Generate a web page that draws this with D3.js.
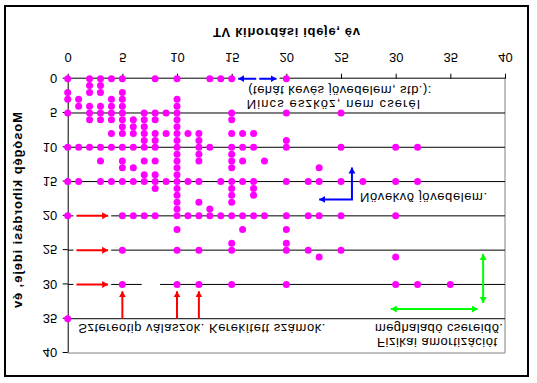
<!DOCTYPE html>
<html>
<head>
<meta charset="utf-8">
<script src="https://cdn.jsdelivr.net/npm/d3@7"></script>
<style>
  body { margin: 0; background: #fff; }
  svg { display: block; }
  text { font-family: "Liberation Sans", Arial, sans-serif; }
</style>
</head>
<body>
<svg id="chart" width="537" height="383"></svg>
<script>
// Mosógép kihordási ideje (év) soronként, és az adott sorban előforduló TV kihordási idők
const mosogepEv = [0, 1, 2, 3, 4, 5, 6, 7, 8, 9, 10, 11, 12, 13, 14, 15, 16, 17, 18, 19, 20, 22, 24, 25, 26, 30, 35];
const tvEvek = [
    [0, 2, 3, 4, 5, 8, 10, 13, 14, 15, 20],
    [2, 3],
    [0, 2, 3, 5],
    [0, 1, 4, 5, 10],
    [1, 2, 3, 4, 5, 10],
    [0, 2, 3, 4, 5, 7, 8, 9, 10, 15, 20, 25],
    [2, 3, 4, 5, 6, 7, 8, 10, 15],
    [5, 6, 7, 10],
    [4, 5, 6, 7, 8, 9, 10, 11, 12, 15, 16, 17],
    [7, 8, 10, 12, 20],
    [0, 1, 2, 3, 4, 5, 6, 7, 8, 10, 12, 13, 15, 16, 17, 20, 25, 30, 32],
    [10, 12, 15],
    [3, 5, 7, 8, 10, 12, 15, 16, 18],
    [5, 6, 10, 15, 23],
    [7, 8, 10],
    [0, 1, 3, 4, 5, 6, 7, 8, 9, 10, 11, 12, 14, 15, 16, 17, 20, 22, 23, 25, 27, 30, 32],
    [8, 10, 15, 17],
    [10, 15, 17],
    [10, 12, 15],
    [10, 13],
    [0, 5, 6, 7, 8, 10, 11, 12, 13, 14, 15, 16, 17, 18, 20, 22, 23, 25, 30],
    [10, 16, 20],
    [15, 20],
    [5, 10, 12, 15, 20, 22, 25],
    [23, 30],
    [5, 10, 12, 15, 20, 30, 32, 35],
    [0]
];
const tengelyTickek = [0, 5, 10, 15, 20, 25, 30, 35, 40];
const racsVonalak = [5, 10, 15, 20, 25, 30, 35];

// megjegyzések és nyilak (adategységben)
const feliratok = [
    { t: "Nincs eszköz, nem cserél", x: 16.38, y: 3.1, w: 173 },
    { t: "(tehát kevés jövedelem, stb.):", x: 16.52, y: 1.0, w: 183 },
    { t: "Növekvő jövedelem.", x: 26.74, y: 16.6, w: 127 },
    { t: "Sztereotip válaszok. Kerekített számok.", x: 0.97, y: 35.7, w: 247 },
    { t: "Fizikai amortizációt", x: 28.3, y: 37.8, w: 120 },
    { t: "meghaladó csereidő.", x: 28.1, y: 35.7, w: 128 }
];
const nyilak = [
    { p: [[0.8, 20], [3.7, 20]], c: "#ff0000", s: false, e: true, halo: true },
    { p: [[0.8, 25], [3.7, 25]], c: "#ff0000", s: false, e: true, halo: true },
    { p: [[0.8, 30], [3.7, 30]], c: "#ff0000", s: false, e: true, halo: true },
    { p: [[5, 35], [5, 31]], c: "#ff0000", s: false, e: true },
    { p: [[10, 35], [10, 31]], c: "#ff0000", s: false, e: true },
    { p: [[12, 35], [12, 31]], c: "#ff0000", s: false, e: true },
    { p: [[15.6, 0], [19.1, 0]], c: "#0000ff", s: true, e: true, halo: true, dash: "18,3" },
    { p: [[23.0, 17.6], [26.0, 17.6], [26.0, 12.95]], c: "#0000ff", s: true, e: true },
    { p: [[38, 25.55], [38, 32.7]], c: "#00ff00", s: true, e: true },
    { p: [[29.55, 33.6], [37.5, 33.6]], c: "#00ff00", s: true, e: true }
];

const W = 537, H = 383;
const svg = d3.select('#chart');

// az egész ábra függőlegesen tükrözve, ahogy a forrásképen
const g = svg.append('g').attr('transform', `translate(0,${H}) scale(1,-1)`);

const x = d3.scaleLinear().domain([0, 40]).range([67.7, 505]);
const y = d3.scaleLinear().domain([0, 40]).range([H - 78.7, H - 353]);

// keret
g.append('rect')
    .attr('x', 5).attr('y', 7).attr('width', 523).attr('height', 370)
    .attr('fill', '#fff').attr('stroke', '#000').attr('stroke-width', 2);

// nyílhegyek
const defs = svg.append('defs');
['#ff0000', '#0000ff', '#00ff00'].forEach(c => {
    defs.append('marker')
        .attr('id', 'm' + c.slice(1))
        .attr('viewBox', '-6 -4 7 8')
        .attr('refX', 0).attr('refY', 0)
        .attr('markerWidth', 7).attr('markerHeight', 8)
        .attr('markerUnits', 'userSpaceOnUse')
        .attr('orient', 'auto-start-reverse')
        .append('path')
        .attr('d', 'M-6,-3.5L0,0L-6,3.5Z')
        .attr('fill', c);
});

// szürke plot-keret (fent és jobbra az eredetiben)
g.append('line')
    .attr('x1', x(0)).attr('x2', x(40)).attr('y1', y(40)).attr('y2', y(40))
    .attr('stroke', '#808080').attr('stroke-width', 1);
g.append('line')
    .attr('x1', x(40)).attr('x2', x(40)).attr('y1', y(0)).attr('y2', y(40))
    .attr('stroke', '#808080').attr('stroke-width', 1);

// rácsvonalak
g.selectAll('line.grid')
    .data(racsVonalak)
    .enter()
    .append('line')
    .attr('class', 'grid')
    .attr('x1', x(0)).attr('x2', x(40))
    .attr('y1', d => y(d)).attr('y2', d => y(d))
    .attr('stroke', '#000').attr('stroke-width', 1);

// hézag a 30-as vonalon
g.append('rect')
    .attr('x', x(6.77)).attr('width', x(8.45) - x(6.77))
    .attr('y', y(30) - 2).attr('height', 4)
    .attr('fill', '#fff');

// tengelyek
const xAxis = g.append('g')
    .attr('transform', `translate(0,${y(0)})`)
    .call(d3.axisBottom(x).tickValues(tengelyTickek).tickSizeInner(5).tickSizeOuter(0).tickPadding(11.2));
const yAxis = g.append('g')
    .attr('transform', `translate(${x(0)},0)`)
    .call(d3.axisLeft(y).tickValues(tengelyTickek).tickSizeInner(5).tickSizeOuter(0).tickPadding(5.5));
[xAxis, yAxis].forEach(a => {
    a.selectAll('text').attr('font-size', 13).attr('fill', '#000')
        .attr('font-family', '"Liberation Sans", Arial, sans-serif');
    a.selectAll('line').attr('stroke', '#000');
    a.select('.domain').attr('stroke', '#000');
});

// tengelycímek
g.append('text')
    .attr('x', 286.5).attr('y', H - 28.3)
    .attr('text-anchor', 'middle')
    .attr('font-size', 13).attr('font-weight', 'bold')
    .attr('textLength', 147).attr('lengthAdjust', 'spacing')
    .text('TV kihordási ideje, év');
g.append('text')
    .attr('transform', `translate(22,${H - 210}) rotate(-90)`)
    .attr('text-anchor', 'middle')
    .attr('font-size', 13).attr('font-weight', 'bold')
    .attr('textLength', 196).attr('lengthAdjust', 'spacing')
    .text('Mosógép kihordási ideje, év');

// nyilak
const line = d3.line().x(d => x(d[0])).y(d => y(d[1]));
g.selectAll('path.halo')
    .data(nyilak.filter(d => d.halo))
    .enter()
    .append('path')
    .attr('class', 'halo')
    .attr('d', d => line(d.p))
    .attr('fill', 'none')
    .attr('stroke', '#fff').attr('stroke-width', 6)
    .attr('stroke-linecap', 'square');
g.selectAll('path.nyil')
    .data(nyilak)
    .enter()
    .append('path')
    .attr('class', 'nyil')
    .attr('d', d => line(d.p))
    .attr('fill', 'none')
    .attr('stroke', d => d.c).attr('stroke-width', 2)
    .attr('stroke-dasharray', d => d.dash || null)
    .attr('marker-start', d => d.s ? `url(#m${d.c.slice(1)})` : null)
    .attr('marker-end', d => d.e ? `url(#m${d.c.slice(1)})` : null);

// pontok
const pontok = mosogepEv.flatMap((m, i) => tvEvek[i].map(t => ({ tv: t, mg: m })));
g.selectAll('circle.pont')
    .data(pontok)
    .enter()
    .append('circle')
    .attr('class', 'pont')
    .attr('cx', d => x(d.tv))
    .attr('cy', d => y(d.mg))
    .attr('r', 3.5)
    .attr('fill', '#ff00ff');

// feliratok
g.selectAll('text.felirat')
    .data(feliratok)
    .enter()
    .append('text')
    .attr('class', 'felirat')
    .attr('x', d => x(d.x))
    .attr('y', d => y(d.y))
    .attr('font-size', 13)
    .attr('textLength', d => d.w).attr('lengthAdjust', 'spacing')
    .text(d => d.t);
</script>
</body>
</html>
